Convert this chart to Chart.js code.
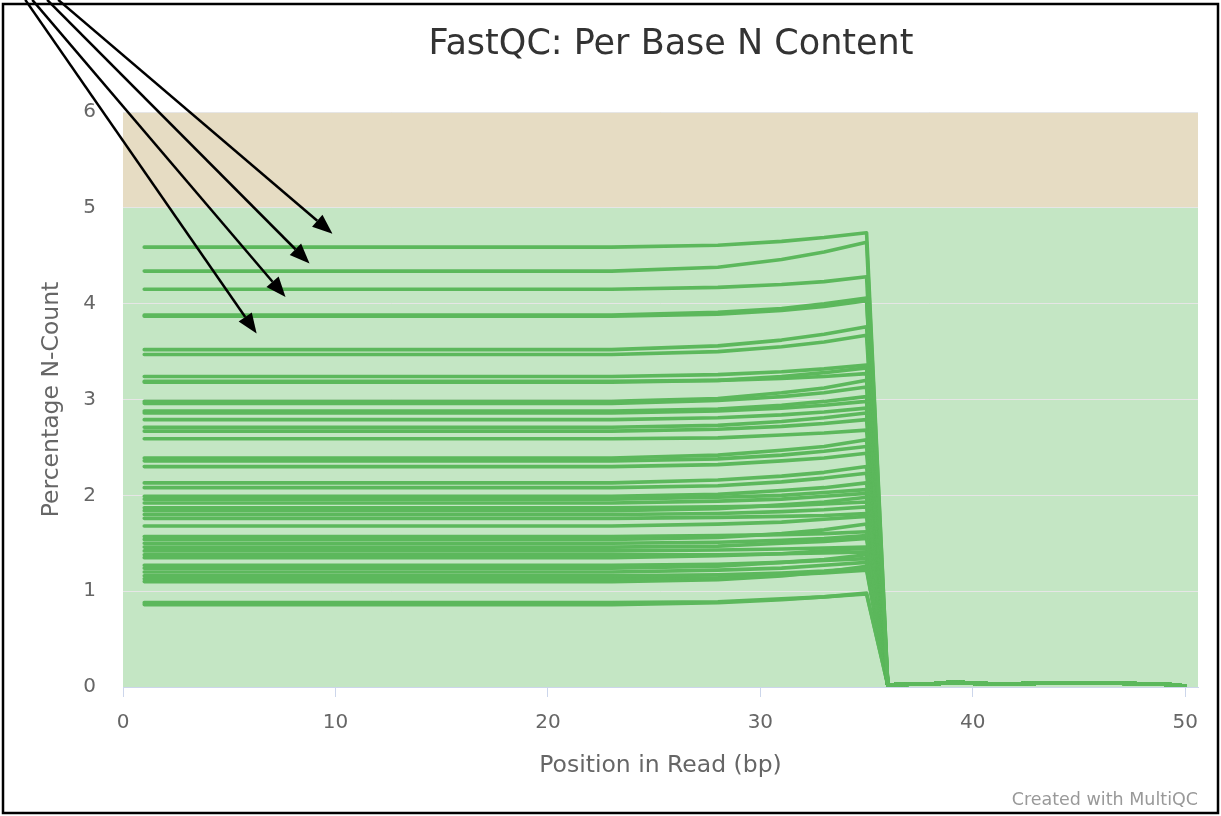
<!DOCTYPE html>
<html><head><meta charset="utf-8">
<script src="https://cdn.jsdelivr.net/npm/chart.js@4.4.1/dist/chart.umd.min.js"></script>
<style>html,body{margin:0;padding:0;background:#fff;overflow:hidden}#wrap{width:1221px;height:816px;position:relative}</style>
</head><body><div id="wrap"><canvas id="c" width="1221" height="816"></canvas></div>
<script>
const chartTitle = 'FastQC: Per Base N Content';
const xAxisTitle = 'Position in Read (bp)';
const yAxisTitle = 'Percentage N-Count';
const creditText = 'Created with MultiQC';
const xTickValues = [0, 10, 20, 30, 40, 50];
const yTickValues = [0, 1, 2, 3, 4, 5, 6];

// positions (bp) for the first part of every sample's curve
const headPositions = [1, 23, 28, 31, 33, 35];
// one row per sample: N-count % at headPositions
const sampleValues = [
  [4.59, 4.59, 4.61, 4.65, 4.69, 4.74],
  [4.34, 4.34, 4.38, 4.46, 4.54, 4.64],
  [4.15, 4.15, 4.17, 4.20, 4.23, 4.28],
  [3.88, 3.88, 3.91, 3.95, 4.00, 4.06],
  [3.87, 3.87, 3.89, 3.93, 3.97, 4.03],
  [3.52, 3.52, 3.56, 3.62, 3.68, 3.76],
  [3.47, 3.47, 3.50, 3.55, 3.60, 3.67],
  [3.24, 3.24, 3.26, 3.29, 3.32, 3.36],
  [3.18, 3.18, 3.20, 3.24, 3.28, 3.33],
  [3.19, 3.19, 3.20, 3.22, 3.24, 3.27],
  [2.98, 2.98, 3.01, 3.07, 3.12, 3.20],
  [2.96, 2.96, 2.99, 3.03, 3.07, 3.13],
  [2.88, 2.88, 2.90, 2.94, 2.98, 3.03],
  [2.86, 2.86, 2.88, 2.91, 2.94, 2.98],
  [2.79, 2.79, 2.81, 2.84, 2.87, 2.91],
  [2.71, 2.71, 2.73, 2.77, 2.81, 2.86],
  [2.67, 2.67, 2.69, 2.72, 2.75, 2.79],
  [2.59, 2.59, 2.60, 2.63, 2.65, 2.68],
  [2.39, 2.39, 2.42, 2.47, 2.51, 2.58],
  [2.36, 2.36, 2.38, 2.42, 2.46, 2.51],
  [2.30, 2.30, 2.32, 2.36, 2.39, 2.44],
  [2.13, 2.13, 2.16, 2.20, 2.24, 2.30],
  [2.08, 2.08, 2.10, 2.14, 2.18, 2.23],
  [1.99, 1.99, 2.01, 2.05, 2.08, 2.13],
  [1.96, 1.96, 1.98, 2.00, 2.03, 2.06],
  [1.92, 1.92, 1.94, 1.96, 1.99, 2.02],
  [1.87, 1.87, 1.88, 1.89, 1.91, 1.93],
  [1.84, 1.84, 1.86, 1.90, 1.93, 1.98],
  [1.80, 1.80, 1.81, 1.83, 1.85, 1.88],
  [1.76, 1.76, 1.77, 1.78, 1.79, 1.81],
  [1.68, 1.68, 1.70, 1.72, 1.75, 1.78],
  [1.57, 1.57, 1.58, 1.59, 1.60, 1.62],
  [1.54, 1.54, 1.56, 1.60, 1.64, 1.70],
  [1.50, 1.50, 1.51, 1.53, 1.55, 1.58],
  [1.46, 1.46, 1.47, 1.50, 1.52, 1.55],
  [1.42, 1.42, 1.43, 1.44, 1.45, 1.46],
  [1.38, 1.38, 1.38, 1.39, 1.40, 1.41],
  [1.35, 1.35, 1.37, 1.39, 1.42, 1.45],
  [1.27, 1.27, 1.28, 1.30, 1.32, 1.34],
  [1.24, 1.24, 1.26, 1.30, 1.33, 1.38],
  [1.20, 1.20, 1.22, 1.24, 1.27, 1.30],
  [1.16, 1.16, 1.17, 1.19, 1.21, 1.24],
  [1.13, 1.13, 1.14, 1.17, 1.19, 1.22],
  [1.10, 1.10, 1.12, 1.16, 1.20, 1.26],
  [0.86, 0.86, 0.88, 0.91, 0.94, 0.98],
  [0.88, 0.88, 0.89, 0.92, 0.94, 0.97]
];
// after the drop at 36 bp all samples share (nearly) the same low values
const tailPositions = [36, 37, 38, 39, 40, 41, 42, 43, 44, 45, 46, 47, 48, 49, 50];
const tailValues = [0.02, 0.03, 0.03, 0.05, 0.04, 0.03, 0.03, 0.04, 0.04, 0.04, 0.04, 0.04, 0.03, 0.03, 0.01];

// background bands (y ranges)
const bandFrom = [0, 5];
const bandTo = [5, 6];
const bandColors = ['rgb(196,230,196)', 'rgb(230,220,195)'];

// annotation arrows (in axis units)
const arrowStartX = [-3.05, -3.57, -4.27, -4.60];
const arrowStartY = [7.17, 7.17, 7.17, 7.17];
const arrowEndX = [9.86, 8.78, 7.65, 6.29];
const arrowEndY = [4.73, 4.42, 4.07, 3.69];

const FONT = '"DejaVu Sans", "Lucida Grande", sans-serif';
const LINE_COLOR = 'rgb(92,184,92)';

const datasets = sampleValues.map((row, i) => ({
  label: 'Sample ' + (i + 1),
  data: headPositions.map((x, j) => ({x: x, y: row[j]}))
        .concat(tailPositions.map((x, j) => ({x: x, y: tailValues[j]}))),
  borderColor: LINE_COLOR,
  borderWidth: 3.6,
  pointRadius: 0,
  tension: 0,
  fill: false,
  borderCapStyle: 'round',
  borderJoinStyle: 'round'
}));

const bandsPlugin = {
  id: 'bands',
  beforeDraw(chart) {
    const {ctx, chartArea, scales} = chart;
    ctx.save();
    for (let i = 0; i < bandFrom.length; i++) {
      const y1 = scales.y.getPixelForValue(bandTo[i]);
      const y2 = scales.y.getPixelForValue(bandFrom[i]);
      ctx.fillStyle = bandColors[i];
      ctx.fillRect(chartArea.left, y1, chartArea.right - chartArea.left, y2 - y1);
    }
    ctx.restore();
  }
};

const decorPlugin = {
  id: 'decor',
  afterDraw(chart) {
    const {ctx, scales, chartArea} = chart;
    ctx.save();
    // arrows
    ctx.strokeStyle = '#000';
    ctx.fillStyle = '#000';
    ctx.lineWidth = 2.5;
    for (let i = 0; i < arrowStartX.length; i++) {
      const x1 = scales.x.getPixelForValue(arrowStartX[i]);
      const y1 = scales.y.getPixelForValue(arrowStartY[i]);
      const x2 = scales.x.getPixelForValue(arrowEndX[i]);
      const y2 = scales.y.getPixelForValue(arrowEndY[i]);
      const ang = Math.atan2(y2 - y1, x2 - x1);
      const headLen = 20, headHalf = 8;
      const bx = x2 - headLen * Math.cos(ang), by = y2 - headLen * Math.sin(ang);
      ctx.beginPath();
      ctx.moveTo(x1, y1);
      ctx.lineTo(bx, by);
      ctx.stroke();
      ctx.beginPath();
      ctx.moveTo(x2, y2);
      ctx.lineTo(bx + headHalf * Math.sin(ang), by - headHalf * Math.cos(ang));
      ctx.lineTo(bx - headHalf * Math.sin(ang), by + headHalf * Math.cos(ang));
      ctx.closePath();
      ctx.fill();
    }
    // title
    ctx.fillStyle = '#333';
    ctx.font = '35px ' + FONT;
    ctx.textAlign = 'center';
    ctx.textBaseline = 'alphabetic';
    ctx.fillText(chartTitle, 671, 54);
    // credit
    ctx.fillStyle = '#999';
    ctx.font = '17.5px ' + FONT;
    ctx.textAlign = 'right';
    ctx.fillText(creditText, chartArea.right, 805);
    // frame
    ctx.strokeStyle = '#000';
    ctx.lineWidth = 2.5;
    ctx.strokeRect(3, 4, 1215, 809);
    ctx.restore();
  }
};

new Chart(document.getElementById('c'), {
  type: 'line',
  data: {datasets: datasets},
  options: {
    responsive: false,
    animation: false,
    devicePixelRatio: 1,
    events: [],
    layout: {padding: {top: 112, right: 23, bottom: 0, left: 0}},
    plugins: {legend: {display: false}, title: {display: false}, tooltip: {enabled: false}},
    scales: {
      x: {
        type: 'linear', min: 0, max: 50.6,
        afterBuildTicks: s => { s.ticks = xTickValues.map(v => ({value: v})); },
        afterFit: s => { s.height = 129; },
        grid: {drawOnChartArea: false, drawTicks: true, tickLength: 10, color: '#ccd6eb'},
        border: {color: '#ccd6eb', width: 1},
        ticks: {padding: 14, color: '#666', font: {family: FONT, size: 20}, maxRotation: 0},
        title: {display: true, text: xAxisTitle, color: '#666', font: {family: FONT, size: 23.5}, padding: {top: 0, bottom: 36}}
      },
      y: {
        type: 'linear', min: 0, max: 6,
        afterBuildTicks: s => { s.ticks = yTickValues.map(v => ({value: v})); },
        afterFit: s => { s.width = 123; },
        grid: {color: '#e6e6e6', drawTicks: false},
        border: {display: false},
        ticks: {padding: 27, color: '#666', font: {family: FONT, size: 20}},
        title: {display: true, text: yAxisTitle, color: '#666', font: {family: FONT, size: 23.5}, padding: {top: 38, bottom: 0}}
      }
    }
  },
  plugins: [bandsPlugin, decorPlugin]
});
</script></body></html>
